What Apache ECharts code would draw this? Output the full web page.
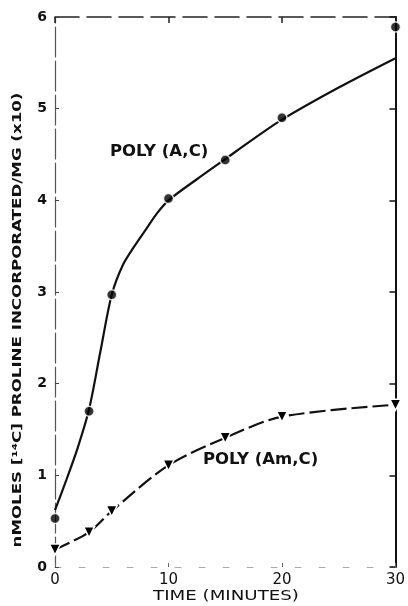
<!DOCTYPE html>
<html>
<head>
<meta charset="utf-8">
<script src="https://cdn.jsdelivr.net/npm/echarts@6/dist/echarts.min.js"></script>
<style>
html,body{margin:0;padding:0;background:#fff;}
#c{width:408px;height:606px;}
</style>
</head>
<body>
<div id="c"></div>
<script>
// Data
const timePoints = [0, 3, 5, 10, 15, 20, 30];
const polyAC = [0.53, 1.70, 2.97, 4.02, 4.44, 4.90, 5.89];
const polyAmC = [0.19, 0.38, 0.61, 1.11, 1.41, 1.64, 1.77];
// Hand-drawn fitted curve through POLY (A,C)
const fitTime = [0, 1, 2, 3, 4, 5, 6, 7, 8, 9, 10, 12.5, 15, 17.5, 20, 25, 30];
const fitAC = [0.62, 0.95, 1.30, 1.72, 2.35, 2.97, 3.30, 3.50, 3.68, 3.86, 4.00, 4.23, 4.45, 4.67, 4.88, 5.23, 5.55];
const xTicks = [0, 10, 20, 30];
const yTicks = [0, 1, 2, 3, 4, 5, 6];
const yTitle = 'nMOLES [¹⁴C] PROLINE INCORPORATED/MG (x10)';
const xTitle = 'TIME (MINUTES)';
const labelAC = 'POLY (A,C)';
const labelAmC = 'POLY (Am,C)';

const pair = (xs, ys) => xs.map((x, i) => [x, ys[i]]);
const font = 'DejaVu Sans';
const chart = echarts.init(document.getElementById('c'), null, {renderer: 'canvas'});
chart.setOption({
  backgroundColor: '#ffffff',
  animation: false,
  grid: {left: 55, right: 11, top: 17, bottom: 39},
  xAxis: [{
    type: 'value', min: 0, max: 30, interval: 10,
    axisLine: {onZero: false, lineStyle: {color: '#aaa', width: 1, type: [6, 18]}},
    axisTick: {inside: true, length: 4, lineStyle: {color: '#666'}},
    axisLabel: {fontFamily: font, fontSize: 15, color: '#111', margin: 6},
    splitLine: {show: false}
  }, {
    type: 'value', min: 0, max: 30, interval: 10, position: 'top',
    axisLine: {onZero: false, lineStyle: {color: '#222', width: 1.5, type: [24, 8]}},
    axisTick: {inside: true, length: 6, lineStyle: {color: '#222', width: 1.5}},
    axisLabel: {show: false},
    splitLine: {show: false}
  }],
  yAxis: [{
    type: 'value', min: 0, max: 6, interval: 1,
    axisLine: {onZero: false, lineStyle: {color: '#555', width: 1.2, type: [30, 4]}},
    axisTick: {inside: true, length: 4, lineStyle: {color: '#444'}},
    axisLabel: {fontFamily: font, fontSize: 14, fontWeight: 'bold', color: '#111', margin: 8},
    splitLine: {show: false}
  }, {
    type: 'value', min: 0, max: 6, interval: 1, position: 'right',
    axisLine: {onZero: false, lineStyle: {color: '#111', width: 2}},
    axisTick: {inside: true, length: 6, lineStyle: {color: '#111', width: 1.5}},
    axisLabel: {show: false},
    splitLine: {show: false}
  }],
  series: [{
    name: 'fit', type: 'line', smooth: 0.3, showSymbol: false, symbol: 'none',
    data: pair(fitTime, fitAC),
    lineStyle: {color: '#111', width: 2.2},
    z: 2
  }, {
    name: labelAC, type: 'scatter', symbol: 'circle', symbolSize: 10,
    data: pair(timePoints, polyAC),
    itemStyle: {color: '#000', borderColor: '#fff', borderWidth: 1.5},
    z: 3
  }, {
    name: labelAmC, type: 'line', smooth: 0.3, symbol: 'triangle', symbolSize: 11, symbolRotate: 180,
    showAllSymbol: true,
    data: pair(timePoints, polyAmC),
    lineStyle: {color: '#111', width: 2.2, type: [16, 5]},
    itemStyle: {color: '#000', borderColor: '#fff', borderWidth: 1.5},
    z: 3
  }],
  graphic: [{
    type: 'text', x: 110, y: 152, scaleX: 1.1,
    style: {text: labelAC, fontFamily: font, fontSize: 15, fontWeight: 'bold', fill: '#111',
            align: 'left', verticalAlign: 'middle'}
  }, {
    type: 'text', x: 203, y: 460, scaleX: 1.1,
    style: {text: labelAmC, fontFamily: font, fontSize: 15, fontWeight: 'bold', fill: '#111',
            align: 'left', verticalAlign: 'middle'}
  }, {
    type: 'text', x: 18, y: 320, rotation: Math.PI / 2, scaleX: 1.28,
    style: {text: yTitle, fontFamily: font, fontSize: 13, fontWeight: 'bold', fill: '#111',
            align: 'center', verticalAlign: 'middle'}
  }, {
    type: 'text', x: 226, y: 596, scaleX: 1.3,
    style: {text: xTitle, fontFamily: font, fontSize: 14, fill: '#111',
            align: 'center', verticalAlign: 'middle'}
  }]
});
</script>
</body>
</html>
